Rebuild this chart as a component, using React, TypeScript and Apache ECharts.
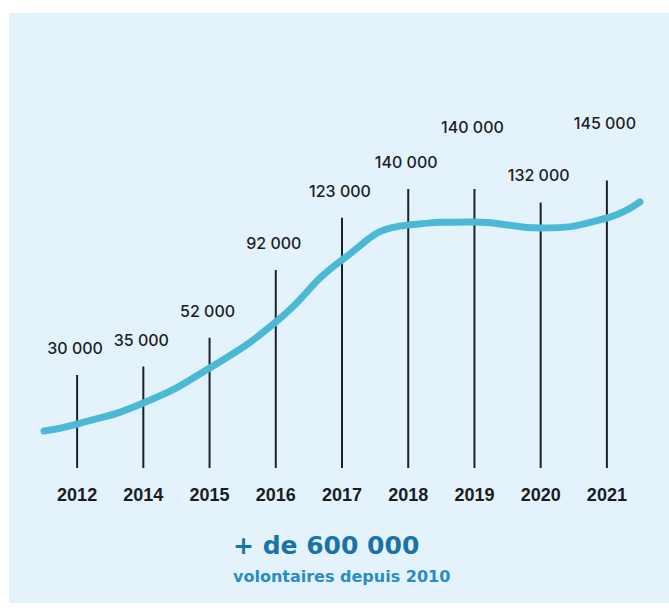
import React, { useEffect, useRef } from 'react';
import * as echarts from 'echarts';

// Data
const YEARS = ['2012', '2014', '2015', '2016', '2017', '2018', '2019', '2020', '2021'];
const VOLUNTEERS = [30000, 35000, 52000, 92000, 123000, 140000, 140000, 132000, 145000];
// Decorative trend curve (x in category units, y in axis units)
const TREND_X = [0, 0.5, 1.5, 2.5, 3.5, 4.5, 5.5, 6.5, 7.5, 8.5, 9];
const TREND_Y = [-3100, 1000, 13400, 34100, 61300, 98000, 118700, 120500, 116900, 122800, 132300];
const HEADLINE = '+ de 600 000';
const SUBLINE = 'volontaires depuis 2010';

const Y_MIN = -25000;
const Y_MAX = 150000;

const fmt = (v: number) => String(v).replace(/\B(?=(\d{3})+(?!\d))/g, ' ');

// label raise above the line top (px), some labels are lifted higher
const labelRaise = (i: number) => (i === 6 ? 62 : i === 8 ? 57 : 27);

export default function App() {
  const ref = useRef<HTMLDivElement>(null);
  useEffect(() => {
    document.body.style.margin = '0';
    const chart = echarts.init(ref.current!, null, { renderer: 'svg' });
    const option: any = {
      animation: false,
      backgroundColor: '#ffffff',
      grid: { left: 44, right: 29, top: 172, bottom: 142, containLabel: false },
      xAxis: [
        {
          type: 'category',
          data: YEARS,
          boundaryGap: true,
          axisLine: { show: false },
          axisTick: { show: false },
          splitLine: { show: false },
          axisLabel: {
            margin: 18,
            fontSize: 18,
            fontWeight: 'bold',
            fontFamily: 'Liberation Sans',
            color: '#1b1b24',
          },
        },
        { type: 'value', min: 0, max: 9, show: false },
      ],
      yAxis: { type: 'value', min: Y_MIN, max: Y_MAX, show: false },
      graphic: [
        {
          type: 'rect',
          z: -10,
          shape: { x: 9, y: 13, width: 660, height: 590 },
          style: { fill: '#e4f3fb' },
          silent: true,
        },
        {
          type: 'text',
          x: 233,
          y: 545,
          style: {
            text: HEADLINE,
            fill: '#1a73a8',
            font: 'bold 25px "DejaVu Sans"',
            align: 'left',
            verticalAlign: 'middle',
          },
        },
        {
          type: 'text',
          x: 233,
          y: 576,
          style: {
            text: SUBLINE,
            fill: '#2a8cc4',
            font: 'bold 16px "DejaVu Sans"',
            align: 'left',
            verticalAlign: 'middle',
          },
        },
      ],
      series: [
        {
          type: 'custom',
          xAxisIndex: 0,
          yAxisIndex: 0,
          z: 2,
          data: VOLUNTEERS.map((v, i) => [i, v]),
          encode: { x: 0, y: 1 },
          renderItem: (params: any, api: any) => {
            const i = api.value(0);
            const v = api.value(1);
            const top = api.coord([i, v]);
            const bottom = api.coord([i, Y_MIN]);
            return {
              type: 'group',
              children: [
                {
                  type: 'line',
                  shape: { x1: top[0], y1: bottom[1], x2: top[0], y2: top[1] },
                  style: { stroke: '#1d1f2b', lineWidth: 2 },
                },
                {
                  type: 'text',
                  style: {
                    text: fmt(v),
                    x: top[0] - 2,
                    y: top[1] - labelRaise(i),
                    fill: '#1d1d24',
                    font: '500 16px Inter',
                    align: 'center',
                    verticalAlign: 'middle',
                  },
                },
              ],
            };
          },
        },
        {
          type: 'line',
          xAxisIndex: 1,
          yAxisIndex: 0,
          z: 3,
          smooth: 0.5,
          symbol: 'none',
          data: TREND_X.map((x, i) => [x, TREND_Y[i]]),
          lineStyle: { color: '#4bb9d6', width: 7, cap: 'round' },
        },
      ],
    };
    chart.setOption(option);
    return () => chart.dispose();
  }, []);
  return <div ref={ref} style={{ width: 669, height: 610 }} />;
}
